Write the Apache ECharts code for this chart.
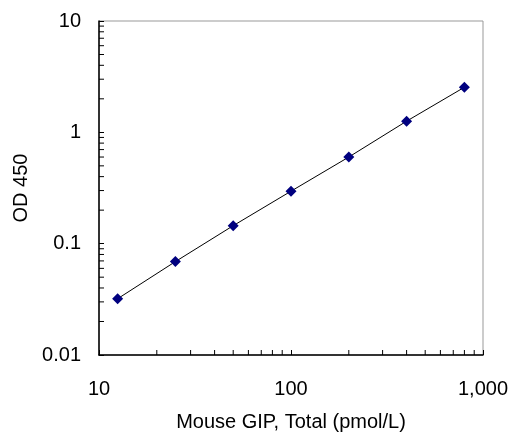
<!DOCTYPE html>
<html>
<head>
<meta charset="utf-8">
<script src="https://cdn.jsdelivr.net/npm/echarts@6/dist/echarts.min.js"></script>
<style>
html,body{margin:0;padding:0;background:#fff;}
#c{width:509px;height:432px;}
</style>
</head>
<body>
<div id="c"></div>
<script>
var concentrations = [12.5, 25, 50, 100, 200, 400, 800];
var od450 = [0.032, 0.069, 0.145, 0.296, 0.60, 1.26, 2.54];
var xMinorTicks = [20, 30, 40, 50, 60, 70, 80, 90, 200, 300, 400, 500, 600, 700, 800, 900];
var yMinorTicks = [0.02, 0.03, 0.04, 0.05, 0.06, 0.07, 0.08, 0.09,
                   0.2, 0.3, 0.4, 0.5, 0.6, 0.7, 0.8, 0.9,
                   2, 3, 4, 5, 6, 7, 8, 9];
var xTitle = 'Mouse GIP, Total (pmol/L)';
var yTitle = 'OD 450';

var X_MIN = 10, X_MAX = 1000, Y_MIN = 0.01, Y_MAX = 10;
var FONT = 'Liberation Sans, Arial, sans-serif';

var chart = echarts.init(document.getElementById('c'));
chart.setOption({
  animation: false,
  backgroundColor: '#fff',
  grid: {left: 99, right: 26, top: 21, bottom: 77, containLabel: false, outerBoundsMode: 'none',
    show: true, borderColor: '#999', borderWidth: 1},
  xAxis: {
    type: 'log', logBase: 10, min: X_MIN, max: X_MAX,
    name: xTitle, nameLocation: 'middle', nameGap: 57,
    nameTextStyle: {fontFamily: FONT, fontSize: 20, color: '#000'},
    axisLine: {show: true, lineStyle: {color: '#000', width: 1.5}},
    axisTick: {show: true, inside: true, length: 5, lineStyle: {color: '#000'}},
    axisLabel: {margin: 24, fontFamily: FONT, fontSize: 20, color: '#000',
      formatter: function (v) { return Number(v).toLocaleString('en-US'); }},
    splitLine: {show: false}
  },
  yAxis: {
    type: 'log', logBase: 10, min: Y_MIN, max: Y_MAX,
    name: yTitle, nameLocation: 'middle', nameGap: 66, nameRotate: 90,
    nameTextStyle: {fontFamily: FONT, fontSize: 20, color: '#000'},
    axisLine: {show: true, lineStyle: {color: '#000', width: 1.5}},
    axisTick: {show: true, inside: true, length: 5, lineStyle: {color: '#000'}},
    axisLabel: {margin: 18, fontFamily: FONT, fontSize: 20, color: '#000',
      formatter: function (v) { return String(Number(v)); }},
    splitLine: {show: false}
  },
  series: [
    {
      type: 'custom', silent: true, clip: false, z: 5,
      data: xMinorTicks.map(function (v) { return [v, Y_MIN]; }),
      renderItem: function (params, api) {
        var p = api.coord([api.value(0), api.value(1)]);
        return {type: 'line', shape: {x1: p[0], y1: p[1], x2: p[0], y2: p[1] - 5},
          style: {stroke: '#000', lineWidth: 1}};
      }
    },
    {
      type: 'custom', silent: true, clip: false, z: 5,
      data: yMinorTicks.map(function (v) { return [X_MIN, v]; }),
      renderItem: function (params, api) {
        var p = api.coord([api.value(0), api.value(1)]);
        return {type: 'line', shape: {x1: p[0], y1: p[1], x2: p[0] + 5, y2: p[1]},
          style: {stroke: '#000', lineWidth: 1}};
      }
    },
    {
      type: 'line', z: 10,
      data: concentrations.map(function (x, i) { return [x, od450[i]]; }),
      symbol: 'diamond', symbolSize: 11, showSymbol: true,
      lineStyle: {color: '#000', width: 1},
      itemStyle: {color: '#00007f', borderWidth: 0}
    }
  ]
});
</script>
</body>
</html>
